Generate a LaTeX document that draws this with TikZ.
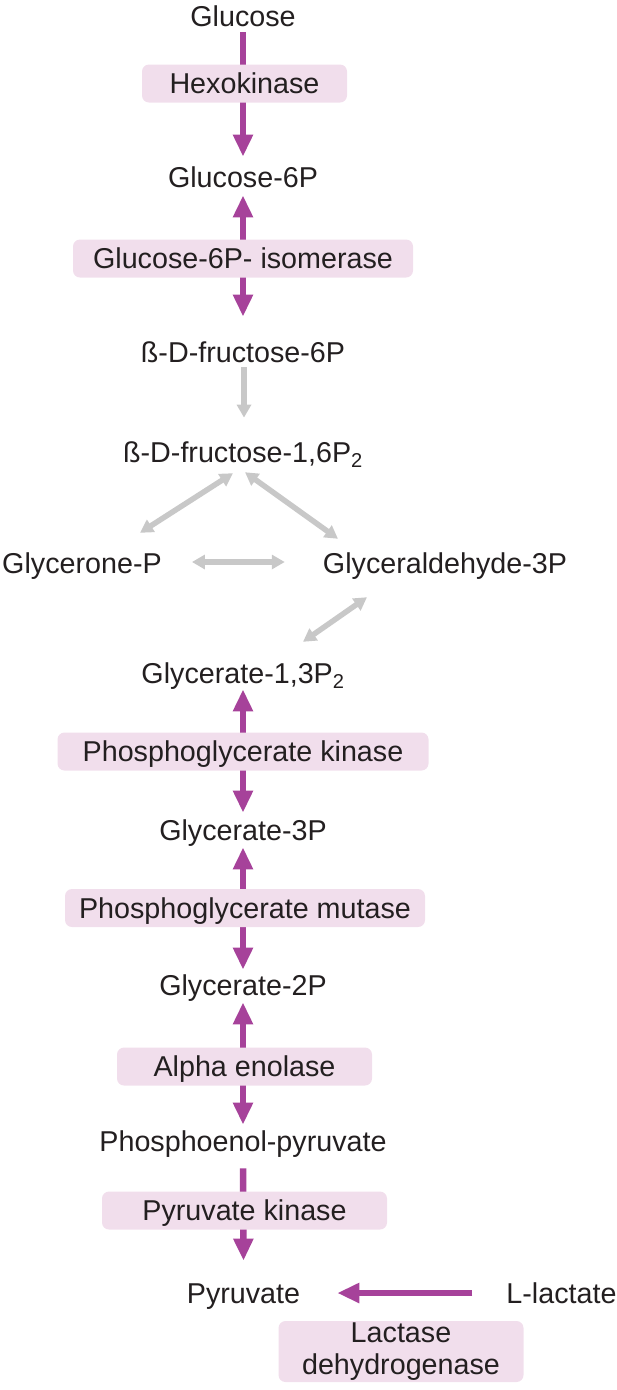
\documentclass[tikz,border=0pt]{standalone}
\usepackage{fontspec}
\setmainfont{Liberation Sans}
\usetikzlibrary{positioning, backgrounds, arrows.meta}

\definecolor{pathway}{HTML}{A6429A}
\definecolor{enzfill}{HTML}{F1DEEC}
\definecolor{sidepath}{HTML}{C8C8C8}
\definecolor{ink}{HTML}{231F20}
\newcommand{\diafont}{\fontsize{28.7pt}{32pt}\selectfont}

\begin{document}
\begin{tikzpicture}[x=1pt, y=-1pt, on grid,
    every node/.style={font=\diafont, text=ink},
    metab/.style={inner sep=0pt, text height=20.4pt, text depth=0pt},
    enzyme/.style={fill=enzfill, rounded corners=7pt, inner sep=0pt, minimum height=38pt, text height=20.4pt, text depth=0pt},
    mainarrow/.style={draw=pathway, line width=6.5pt, -{Triangle[width=19pt,length=22pt]}},
    revarrow/.style={draw=pathway, line width=6.5pt, {Triangle[width=19pt,length=22pt]}-{Triangle[width=19pt,length=22pt]}},
    sidearrow/.style={draw=sidepath, line width=5.5pt, {Triangle[width=14pt,length=13pt]}-{Triangle[width=14pt,length=13pt]}},
    sidestep/.style={draw=sidepath, line width=5.5pt, -{Triangle[width=14pt,length=13pt]}}]
    \useasboundingbox (0,0) rectangle (617,1390);

    \node[metab] (glc) at (243,16) {Glucose};
    \node[enzyme, below=67.5pt of glc, xshift=1.5pt, minimum width=205pt] (hk) {Hexokinase};
    \node[metab, below=93.5pt of hk, xshift=-1.5pt] (g6p) {Glucose-6P};
    \node[enzyme, below=81.5pt of g6p, minimum width=340pt] (gpi) {Glucose-6P- isomerase};
    \node[metab, below=93.5pt of gpi] (f6p) {ß-D-fructose-6P};
    \node[metab, below=100pt of f6p] (fbp) {ß-D-fructose-1,6P\textsubscript{2}};
    \node[metab, below left=111pt and 161pt of fbp] (gap) {Glycerone-P};
    \node[metab, below right=111pt and 202pt of fbp] (gad) {Glyceraldehyde-3P};
    \node[metab, below=221pt of fbp] (bpg) {Glycerate-1,3P\textsubscript{2}};
    \node[enzyme, below=78.5pt of bpg, minimum width=371pt] (pgk) {Phosphoglycerate kinase};
    \node[metab, below=78.5pt of pgk] (g3p) {Glycerate-3P};
    \node[enzyme, below=78pt of g3p, xshift=2pt, minimum width=360pt] (pgm) {Phosphoglycerate mutase};
    \node[metab, below=77pt of pgm, xshift=-2pt] (g2p) {Glycerate-2P};
    \node[enzyme, below=81.5pt of g2p, xshift=1.5pt, minimum width=255pt] (eno) {Alpha enolase};
    \node[metab, below=74.5pt of eno, xshift=-1.5pt] (pep) {Phosphoenol-pyruvate};
    \node[enzyme, below=69.5pt of pep, xshift=1.5pt, minimum width=285pt] (pk) {Pyruvate kinase};
    \node[metab, below=82.5pt of pk, xshift=-1pt] (pyr) {Pyruvate};
    \node[metab, right=318pt of pyr] (lac) {L-lactate};
    \node[fill=enzfill, rounded corners=7pt, inner sep=0pt, align=center, minimum width=245pt, minimum height=61pt,
          below right=58.5pt and 157.5pt of pyr] (ldh) {Lactase\\dehydrogenase};

    \begin{pgfonlayer}{background}
    % main pathway
    \draw[mainarrow] ([shift={(0,6)}]glc.south) -- ([shift={(0,-10)}]g6p.north);
    \draw[revarrow] ([shift={(0,8)}]g6p.south) -- ([shift={(0,-25)}]f6p.north);
    \draw[revarrow] ([shift={(0,6)}]bpg.south) -- ([shift={(0,-7)}]g3p.north);
    \draw[revarrow] ([shift={(0,7)}]g3p.south) -- ([shift={(0,-5)}]g2p.north);
    \draw[revarrow] ([shift={(0,7)}]g2p.south) -- ([shift={(0,-6)}]pep.north);
    \draw[mainarrow] ([shift={(0,17)}]pep.south) -- ([shift={(0,-22)}]pyr.north);
    \draw[mainarrow] ([shift={(-34,0)}]lac.west) -- ([shift={(37,0)}]pyr.east);
    % grey steps
    \draw[sidestep] ([shift={(1,5)}]f6p.south) -- ([shift={(1,-24)}]fbp.north);
    \draw[sidearrow] ([shift={(-10,10.8)}]fbp.south) -- ([shift={(58,-19.8)}]gap.north);
    \draw[sidearrow] ([shift={(2,9.8)}]fbp.south) -- ([shift={(-107,-13.8)}]gad.north);
    \draw[sidearrow] ([shift={(30,-1)}]gap.east) -- ([shift={(-38,-1)}]gad.west);
    \draw[sidearrow] ([shift={(-78,23.8)}]gad.south) -- ([shift={(60,-20.8)}]bpg.north);
    \end{pgfonlayer}
\end{tikzpicture}
\end{document}
